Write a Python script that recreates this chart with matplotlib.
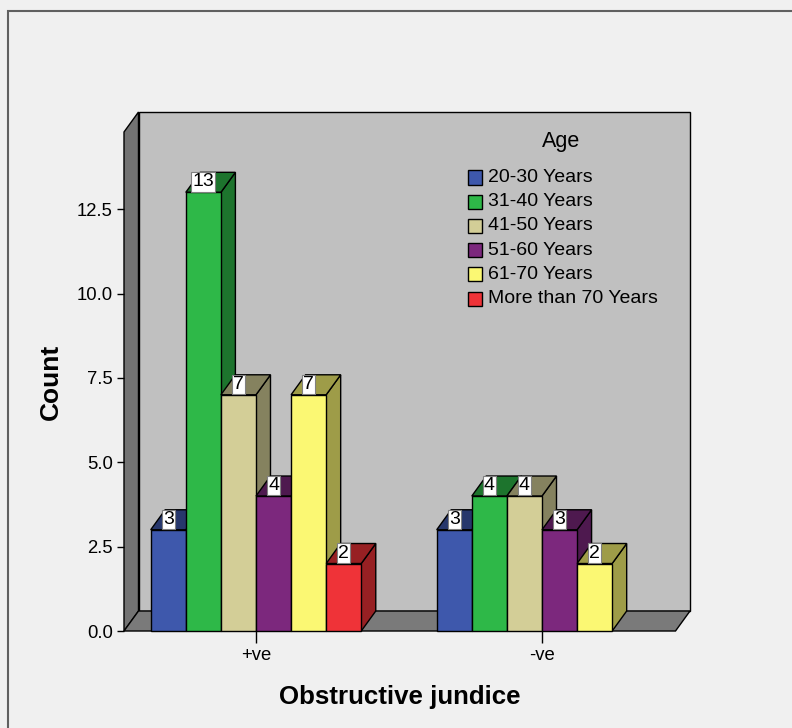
import matplotlib
matplotlib.use("Agg")
import matplotlib.pyplot as plt
from matplotlib.patches import Polygon, Rectangle
import numpy as np

# ---- data ----
categories = ["+ve", "-ve"]
age_groups = ["20-30 Years", "31-40 Years", "41-50 Years",
              "51-60 Years", "61-70 Years", "More than 70 Years"]
pos_counts = [3, 13, 7, 4, 7, 2]
neg_counts = [3, 4, 4, 3, 2, 0]
y_ticks = [0.0, 2.5, 5.0, 7.5, 10.0, 12.5]

colors = ["#3e58ac", "#2eb848", "#d3ce97", "#7c287d", "#fbf873", "#ef3338"]

plt.rcParams["font.family"] = ["Liberation Sans", "DejaVu Sans"]

# ---- 3d look parameters (in data units) ----
BAR_W = 0.1227
DX = 0.0507
DY = 0.5926
X_LO, X_HI = -0.4615, 1.5175
Y_TOP = 15.38
SHADE = 0.63


def darker(hex_color, f=SHADE):
    rgb = np.array(matplotlib.colors.to_rgb(hex_color))
    return tuple(rgb * f)


fig = plt.figure(figsize=(7.92, 7.28), dpi=100, facecolor="#f0f0f0")
ax = fig.add_axes([124 / 792, 97 / 728, 566 / 792, 519 / 728])
ax.set_xlim(X_LO, X_HI)
ax.set_ylim(0, Y_TOP)
ax.set_facecolor("none")
for s in ax.spines.values():
    s.set_visible(False)

# outer frame
fig.add_artist(Rectangle((8 / 792, -0.2), 1.5, 1.2 - 11 / 728,
                         transform=fig.transFigure, fill=False,
                         edgecolor="#606060", linewidth=1.5))

# walls and floor
wall_kw = dict(edgecolor="black", linewidth=1.0, clip_on=False, zorder=1)
ax.add_patch(Polygon([(X_LO + DX, DY), (X_HI, DY), (X_HI, Y_TOP), (X_LO + DX, Y_TOP)],
                     facecolor="#c0c0c0", **wall_kw))
ax.add_patch(Polygon([(X_LO, 0), (X_LO, Y_TOP - DY), (X_LO + DX, Y_TOP), (X_LO + DX, DY)],
                     facecolor="#737373", **wall_kw))
ax.add_patch(Polygon([(X_LO, 0), (X_LO + DX, DY), (X_HI, DY), (X_HI - DX, 0)],
                     facecolor="#7a7a7a", **wall_kw))

# bars
z = 2
for ci, counts in enumerate([pos_counts, neg_counts]):
    for j, v in enumerate(counts):
        if v <= 0:
            continue
        x0 = ci + (j - len(age_groups) / 2) * BAR_W
        x1 = x0 + BAR_W
        dark = darker(colors[j])
        kw = dict(edgecolor="black", linewidth=1.0, zorder=z, clip_on=False)
        ax.add_patch(Polygon([(x1, 0), (x1, v), (x1 + DX, v + DY), (x1 + DX, DY)],
                             facecolor=dark, **kw))
        ax.add_patch(Polygon([(x0, v), (x0 + DX, v + DY), (x1 + DX, v + DY), (x1, v)],
                             facecolor=dark, **kw))
        ax.add_patch(Rectangle((x0, 0), BAR_W, v, facecolor=colors[j], **kw))
        ax.text(x0 + BAR_W / 2, v + 0.31, f"{v}", ha="center", va="center",
                fontsize=14, zorder=200,
                bbox=dict(boxstyle="square,pad=0.06", facecolor="white",
                          edgecolor="#808080", linewidth=0.8))
        z += 1

# axes ticks and labels
ax.set_yticks(y_ticks)
ax.set_yticklabels([f"{t:.1f}" for t in y_ticks])
ax.tick_params(axis="y", direction="out", length=5, width=1.0, pad=3,
               labelsize=13.3, color="black")
ax.set_xticks(range(len(categories)))
ax.set_xticklabels(categories)
ax.tick_params(axis="x", direction="out", length=8.6, width=1.0, pad=3,
               labelsize=13.3, color="black")

ax.set_ylabel("Count", fontsize=19, fontweight="bold", va="center")
ax.yaxis.set_label_coords(-0.13, 0.48)
ax.set_xlabel("Obstructive jundice", fontsize=18.6, fontweight="bold", va="center")
ax.xaxis.set_label_coords(0.4876, -0.127)

# legend
W, H = 792, 728
fig.text(561 / W, 1 - 141 / H, "Age", ha="center", va="center", fontsize=15.5)
for j, name in enumerate(age_groups):
    yc = 177.5 + j * 24.2
    fig.add_artist(Rectangle((468 / W, 1 - (yc + 7) / H), 14 / W, 14 / H,
                             transform=fig.transFigure, facecolor=colors[j],
                             edgecolor="black", linewidth=1.0))
    fig.text(488 / W, 1 - yc / H, name, ha="left", va="center", fontsize=14)

fig.savefig("out.png", dpi=100, facecolor=fig.get_facecolor())
